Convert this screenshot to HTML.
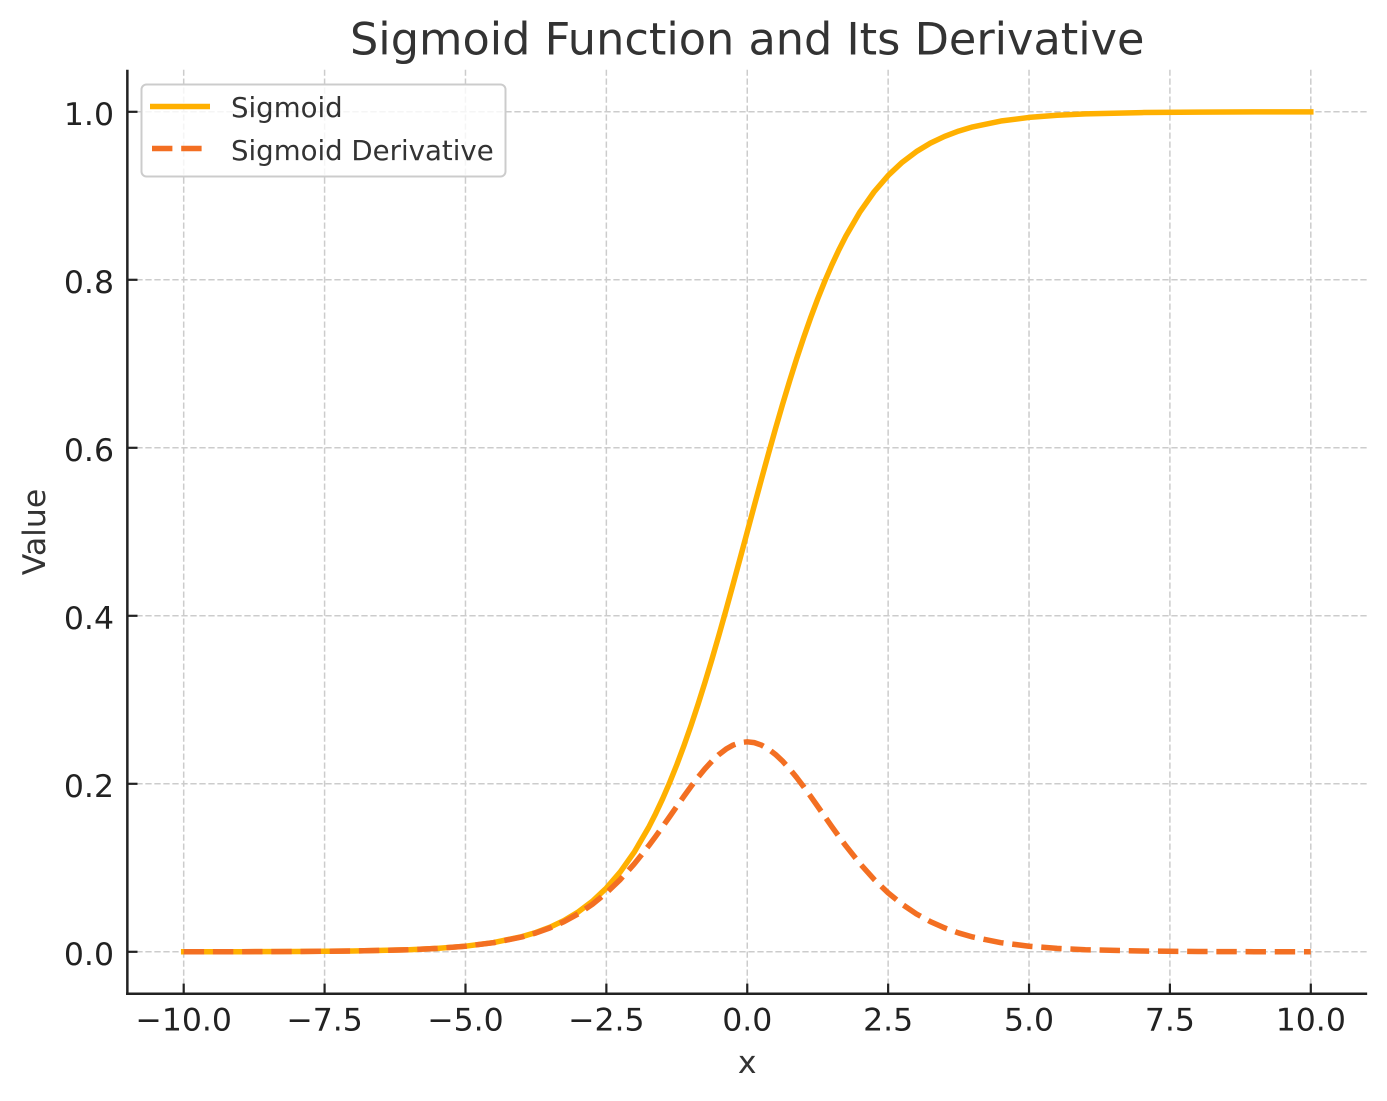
<!DOCTYPE html>
<html>
<head>
<meta charset="utf-8">
<style>
  html, body { margin: 0; padding: 0; background: #ffffff; }
  svg { display: block; }
  text { font-family: "DejaVu Sans", "Liberation Sans", sans-serif; }
</style>
</head>
<body>
<svg width="1387" height="1101" viewBox="0 0 1387 1101" xmlns="http://www.w3.org/2000/svg">
  <rect x="0" y="0" width="1387" height="1101" fill="#ffffff"/>

  <!-- grid -->
  <g stroke="#cccccc" stroke-width="1.5" stroke-dasharray="6.3 2.7" fill="none">
    <line x1="127.35" y1="951.8" x2="1367.15" y2="951.8"/>
    <line x1="127.35" y1="783.8" x2="1367.15" y2="783.8"/>
    <line x1="127.35" y1="615.8" x2="1367.15" y2="615.8"/>
    <line x1="127.35" y1="447.8" x2="1367.15" y2="447.8"/>
    <line x1="127.35" y1="279.8" x2="1367.15" y2="279.8"/>
    <line x1="127.35" y1="111.8" x2="1367.15" y2="111.8"/>
    <line x1="183.70" y1="993.8" x2="183.70" y2="69.8"/>
    <line x1="324.59" y1="993.8" x2="324.59" y2="69.8"/>
    <line x1="465.48" y1="993.8" x2="465.48" y2="69.8"/>
    <line x1="606.36" y1="993.8" x2="606.36" y2="69.8"/>
    <line x1="747.25" y1="993.8" x2="747.25" y2="69.8"/>
    <line x1="888.14" y1="993.8" x2="888.14" y2="69.8"/>
    <line x1="1029.03" y1="993.8" x2="1029.03" y2="69.8"/>
    <line x1="1169.91" y1="993.8" x2="1169.91" y2="69.8"/>
    <line x1="1310.80" y1="993.8" x2="1310.80" y2="69.8"/>
  </g>

  <!-- sigmoid -->
  <polyline fill="none" stroke="#FFB000" stroke-width="5.5" stroke-linecap="square" stroke-linejoin="round"
    points="183.70,951.76 240.06,951.70 296.41,951.52 352.77,951.03 409.12,949.72 437.30,948.38 465.48,946.18 493.65,942.57 521.83,936.69 535.92,932.50 550.01,927.18 564.10,920.45 578.19,911.96 592.27,901.33 606.36,888.08 620.45,871.71 634.54,851.67 648.63,827.44 655.67,813.60 662.72,798.56 669.76,782.28 676.81,764.73 683.85,745.93 690.90,725.89 697.94,704.66 704.98,682.31 712.03,658.94 719.07,634.67 726.12,609.64 733.16,584.03 740.21,558.02 747.25,531.80 754.29,505.58 761.34,479.57 768.38,453.96 775.43,428.93 782.47,404.66 789.52,381.29 796.56,358.94 803.61,337.71 810.65,317.67 817.69,298.87 824.74,281.32 831.78,265.04 838.83,250.00 845.87,236.16 859.96,211.93 874.05,191.89 888.14,175.52 902.23,162.27 916.32,151.64 930.40,143.15 944.49,136.42 958.58,131.10 972.67,126.91 1000.85,121.03 1029.03,117.42 1057.20,115.22 1085.38,113.88 1141.74,112.57 1198.09,112.08 1254.45,111.90 1310.80,111.84"/>

  <!-- derivative -->
  <polyline fill="none" stroke="#F36F22" stroke-width="5.5" stroke-dasharray="20.4 8.8" stroke-linecap="butt" stroke-linejoin="round"
    points="183.70,951.76 240.06,951.70 296.41,951.52 352.77,951.03 409.12,949.73 437.30,948.38 465.48,946.22 493.65,942.67 521.83,936.96 535.92,932.94 550.01,927.90 564.10,921.62 578.19,913.85 592.27,904.36 606.36,892.91 620.45,879.34 634.54,863.60 648.63,845.85 655.67,836.34 662.72,826.52 669.76,816.49 676.81,806.39 683.85,796.38 690.90,786.65 697.94,777.37 704.98,768.77 712.03,761.04 719.07,754.40 726.12,749.01 733.16,745.05 740.21,742.62 747.25,741.80 754.29,742.62 761.34,745.05 768.38,749.01 775.43,754.40 782.47,761.04 789.52,768.77 796.56,777.37 803.61,786.65 810.65,796.38 817.69,806.39 824.74,816.49 831.78,826.52 838.83,836.34 845.87,845.85 859.96,863.60 874.05,879.34 888.14,892.91 902.23,904.36 916.32,913.85 930.40,921.62 944.49,927.90 958.58,932.94 972.67,936.96 1000.85,942.67 1029.03,946.22 1057.20,948.38 1085.38,949.73 1141.74,951.03 1198.09,951.52 1254.45,951.70 1310.80,951.76"/>

  <!-- spines -->
  <g stroke="#222222" stroke-width="2.5" fill="none">
    <line x1="127.35" y1="69.8" x2="127.35" y2="995"/>
    <line x1="126.1" y1="993.8" x2="1367.15" y2="993.8"/>
  </g>

  <!-- ticks (inward) -->
  <g stroke="#222222" stroke-width="2.2">
    <line x1="127.35" y1="951.8" x2="137.5" y2="951.8"/>
    <line x1="127.35" y1="783.8" x2="137.5" y2="783.8"/>
    <line x1="127.35" y1="615.8" x2="137.5" y2="615.8"/>
    <line x1="127.35" y1="447.8" x2="137.5" y2="447.8"/>
    <line x1="127.35" y1="279.8" x2="137.5" y2="279.8"/>
    <line x1="127.35" y1="111.8" x2="137.5" y2="111.8"/>
    <line x1="183.70" y1="993.8" x2="183.70" y2="983.6"/>
    <line x1="324.59" y1="993.8" x2="324.59" y2="983.6"/>
    <line x1="465.48" y1="993.8" x2="465.48" y2="983.6"/>
    <line x1="606.36" y1="993.8" x2="606.36" y2="983.6"/>
    <line x1="747.25" y1="993.8" x2="747.25" y2="983.6"/>
    <line x1="888.14" y1="993.8" x2="888.14" y2="983.6"/>
    <line x1="1029.03" y1="993.8" x2="1029.03" y2="983.6"/>
    <line x1="1169.91" y1="993.8" x2="1169.91" y2="983.6"/>
    <line x1="1310.80" y1="993.8" x2="1310.80" y2="983.6"/>
  </g>

  <!-- y tick labels -->
  <g font-size="31.5" fill="#222222" text-anchor="end">
    <text x="114" y="965">0.0</text>
    <text x="114" y="797">0.2</text>
    <text x="114" y="629">0.4</text>
    <text x="114" y="461">0.6</text>
    <text x="114" y="293">0.8</text>
    <text x="114" y="125">1.0</text>
  </g>

  <!-- x tick labels -->
  <g font-size="31.5" fill="#222222" text-anchor="middle">
    <text x="183.70" y="1030.5">−10.0</text>
    <text x="324.59" y="1030.5">−7.5</text>
    <text x="465.48" y="1030.5">−5.0</text>
    <text x="606.36" y="1030.5">−2.5</text>
    <text x="747.25" y="1030.5">0.0</text>
    <text x="888.14" y="1030.5">2.5</text>
    <text x="1029.03" y="1030.5">5.0</text>
    <text x="1169.91" y="1030.5">7.5</text>
    <text x="1310.80" y="1030.5">10.0</text>
  </g>

  <!-- axis labels -->
  <text x="747.25" y="1073" font-size="31.5" fill="#333333" text-anchor="middle">x</text>
  <text transform="translate(45,532) rotate(-90)" font-size="31.5" fill="#333333" text-anchor="middle">Value</text>

  <!-- title -->
  <text x="747.25" y="54.5" font-size="44.6" fill="#333333" text-anchor="middle">Sigmoid Function and Its Derivative</text>

  <!-- legend -->
  <rect x="141.5" y="84.5" width="364" height="92" rx="5" ry="5" fill="#ffffff" fill-opacity="0.8" stroke="#cccccc" stroke-width="2"/>
  <line x1="150" y1="106.5" x2="210" y2="106.5" stroke="#FFB000" stroke-width="5.5"/>
  <line x1="152" y1="148.5" x2="206" y2="148.5" stroke="#F36F22" stroke-width="5.5" stroke-dasharray="20.4 8.8"/>
  <text x="231" y="117" font-size="27.6" fill="#333333">Sigmoid</text>
  <text x="231" y="160" font-size="27.6" fill="#333333">Sigmoid Derivative</text>
</svg>
</body>
</html>
